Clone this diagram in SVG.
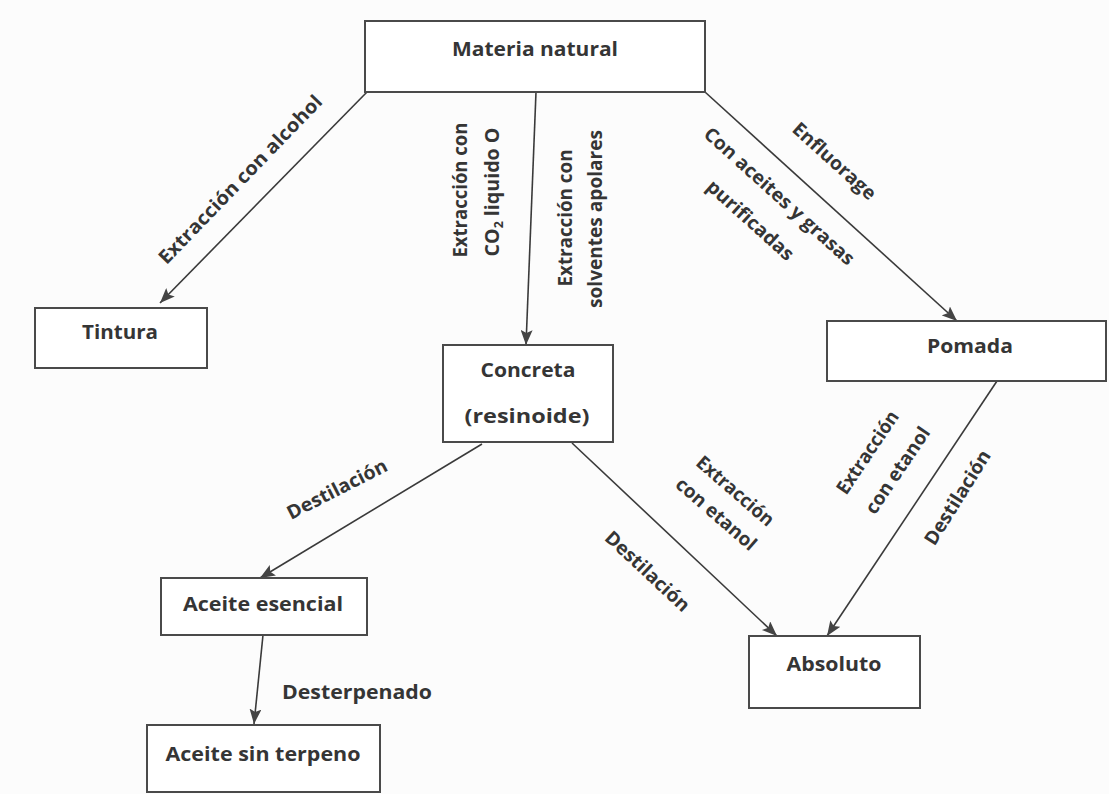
<svg xmlns="http://www.w3.org/2000/svg" width="1109" height="794" viewBox="0 0 1109 794">
  <style>
    .box { fill: #ffffff; stroke: #4a4a4a; stroke-width: 2; }
    .t { font-family: "Open Sans", "Liberation Sans", sans-serif; font-weight: bold; font-size: 19px; fill: #353535; }
    .c { text-anchor: middle; }
    .edge { stroke: #3a3a3a; stroke-width: 1.6; fill: none; marker-end: url(#arr); }
  </style>
  <defs>
    <marker id="arr" markerUnits="userSpaceOnUse" viewBox="0 0 15 12" markerWidth="15" markerHeight="12" refX="15" refY="6" orient="auto">
      <path d="M0,0 L15,6 L0,12 L3,6 z" fill="#444444"/>
    </marker>
  </defs>
  <rect x="0" y="0" width="1109" height="794" fill="#fcfcfc"/>

  <g id="connectors">
    <line class="edge" x1="367" y1="92" x2="160" y2="303"/>
    <line class="edge" x1="536" y1="92" x2="526" y2="345"/>
    <line class="edge" x1="705" y1="92" x2="957" y2="321"/>
    <line class="edge" x1="482" y1="444" x2="260" y2="578"/>
    <line class="edge" x1="572" y1="443" x2="777" y2="636"/>
    <line class="edge" x1="997" y1="381" x2="827" y2="636"/>
    <line class="edge" x1="263" y1="635" x2="254" y2="724"/>
  </g>

  <g id="edge-labels">
    <text class="t c" transform="translate(245,184) rotate(-46)" textLength="226" lengthAdjust="spacingAndGlyphs">Extracción con alcohol</text>
    <text class="t c" transform="translate(467,190) rotate(-90)" textLength="135" lengthAdjust="spacingAndGlyphs">Extracción con</text>
    <text class="t c" transform="translate(499,192) rotate(-90)" textLength="129" lengthAdjust="spacingAndGlyphs">CO<tspan font-size="12" dy="4">2</tspan><tspan dy="-4"> liquido O</tspan></text>
    <text class="t c" transform="translate(572,218) rotate(-90)" textLength="137" lengthAdjust="spacingAndGlyphs">Extracción con</text>
    <text class="t c" transform="translate(602,219) rotate(-90)" textLength="178" lengthAdjust="spacingAndGlyphs">solventes apolares</text>
    <text class="t c" transform="translate(830,166) rotate(42)" textLength="105" lengthAdjust="spacingAndGlyphs">Enfluorage</text>
    <text class="t c" transform="translate(775,201) rotate(42)" textLength="195" lengthAdjust="spacingAndGlyphs">Con aceites y grasas</text>
    <text class="t c" transform="translate(746,225) rotate(42)" textLength="110" lengthAdjust="spacingAndGlyphs">purificadas</text>
    <text class="t c" transform="translate(340,495) rotate(-27)" textLength="110" lengthAdjust="spacingAndGlyphs">Destilación</text>
    <text class="t c" transform="translate(731,496) rotate(41)" textLength="96" lengthAdjust="spacingAndGlyphs">Extracción</text>
    <text class="t c" transform="translate(712,519) rotate(41)" textLength="100" lengthAdjust="spacingAndGlyphs">con etanol</text>
    <text class="t c" transform="translate(643,576) rotate(43)" textLength="108" lengthAdjust="spacingAndGlyphs">Destilación</text>
    <text class="t c" transform="translate(873,456) rotate(-56)" textLength="96" lengthAdjust="spacingAndGlyphs">Extracción</text>
    <text class="t c" transform="translate(903,474) rotate(-56)" textLength="100" lengthAdjust="spacingAndGlyphs">con etanol</text>
    <text class="t c" transform="translate(963,501) rotate(-58)" textLength="108" lengthAdjust="spacingAndGlyphs">Destilación</text>
    <text class="t" x="282" y="699" textLength="150" lengthAdjust="spacingAndGlyphs">Desterpenado</text>
  </g>

  <g id="materia-natural">
    <rect class="box" x="365" y="21" width="340" height="71"/>
    <text class="t c" x="535" y="56" textLength="166" lengthAdjust="spacingAndGlyphs">Materia natural</text>
  </g>
  <g id="tintura">
    <rect class="box" x="35" y="308" width="172" height="60"/>
    <text class="t c" x="120" y="339" textLength="76" lengthAdjust="spacingAndGlyphs">Tintura</text>
  </g>
  <g id="concreta">
    <rect class="box" x="443" y="345" width="170" height="97"/>
    <text class="t c" x="528" y="377" textLength="95" lengthAdjust="spacingAndGlyphs">Concreta</text>
    <text class="t c" x="527" y="423" textLength="125" lengthAdjust="spacingAndGlyphs">(resinoide)</text>
  </g>
  <g id="pomada">
    <rect class="box" x="827" y="321" width="279" height="60"/>
    <text class="t c" x="970" y="353" textLength="86" lengthAdjust="spacingAndGlyphs">Pomada</text>
  </g>
  <g id="absoluto">
    <rect class="box" x="749" y="636" width="171" height="72"/>
    <text class="t c" x="834" y="671" textLength="95" lengthAdjust="spacingAndGlyphs">Absoluto</text>
  </g>
  <g id="aceite-esencial">
    <rect class="box" x="161" y="578" width="206" height="57"/>
    <text class="t c" x="263" y="611" textLength="160" lengthAdjust="spacingAndGlyphs">Aceite esencial</text>
  </g>
  <g id="aceite-sin-terpeno">
    <rect class="box" x="147" y="725" width="233" height="67"/>
    <text class="t c" x="263" y="761" textLength="195" lengthAdjust="spacingAndGlyphs">Aceite sin terpeno</text>
  </g>
</svg>
